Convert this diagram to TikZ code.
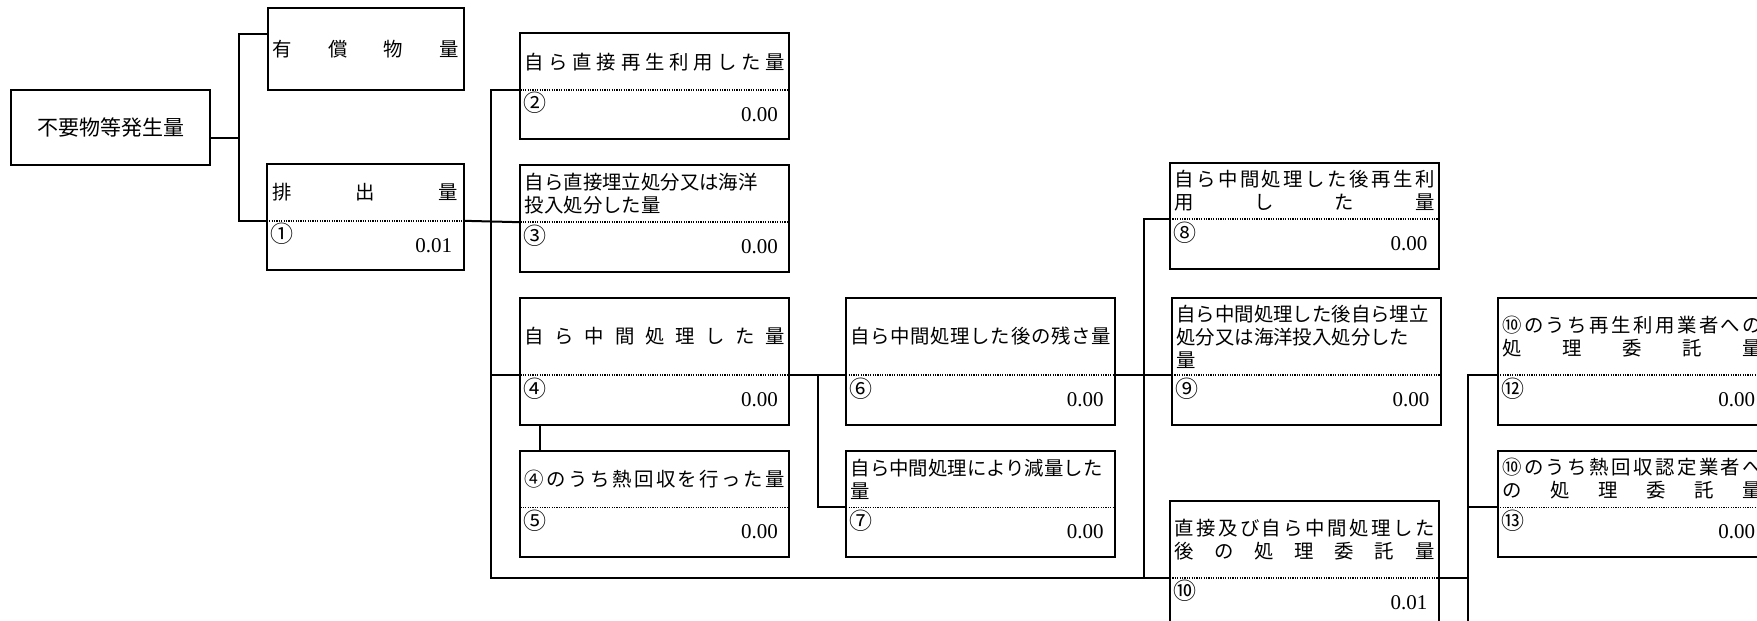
\documentclass[tikz,border=0pt]{standalone}
\usepackage{fontspec}
\setmainfont{Liberation Serif}
\newfontfamily\cjk{Noto Sans CJK JP}
\usetikzlibrary{positioning,calc}

% spread the characters of one line over the whole text width
\makeatletter
\def\dist#1{\noindent\hbox to\hsize{\dist@first#1\@nil}}
\def\dist@first#1{\ifx#1\@nil\else#1\expandafter\dist@rest\fi}
\def\dist@rest#1{\ifx#1\@nil\else\hfill#1\expandafter\dist@rest\fi}
\makeatother

\begin{document}
\begin{tikzpicture}[
  x=0.5pt, y=-0.5pt,
  frame/.style={draw, line width=1pt},
  head/.style={
    minimum width=134pt,
    minimum height=#1,
    text width=130pt,
    inner xsep=2pt,
    inner ysep=0pt,
    anchor=north west,
    align=left,
    font=\cjk\fontsize{9.7}{11.5}\selectfont,
  },
  head/.default=28pt,
  side/.style={
    head=#1,
    minimum width=98pt,
    text width=93pt,
    inner xsep=2.5pt,
  },
  side/.default=28pt,
  foot/.style={
    minimum width=134pt,
    minimum height=24.25pt,
    text width=123pt,
    inner xsep=5.5pt,
    inner ysep=0pt,
    align=right,
    font=\fontsize{10.5}{12}\selectfont,
  },
  num/.style={
    inner xsep=1.5pt,
    inner ysep=1pt,
    font=\cjk\fontsize{11.5}{12}\selectfont,
  },
  link/.style={line width=1pt},
  divider/.style={line width=0.9pt, dash pattern=on 0.6pt off 0.6pt},
]
\fill[white] (0,0) rectangle (1757,621);
\useasboundingbox (0,0) rectangle (1757,621);
\clip (0,0) rectangle (1757,621);

% Nodes
\node[frame, minimum width=99.5pt, minimum height=37.5pt,
      font=\cjk\fontsize{10.5}{12}\selectfont] (gen) at (110.5,127.8) {不要物等発生量};

\node[frame, side=41.3pt] (val) at (266.7,6.7) {\dist{有償物量}};

\node[side] (emit) at (266.7,164) {\dist{排出量}};
\node[foot, minimum width=98pt, text width=87pt, below=0pt of emit] (emit-v) {0.01};
\node[num, below right=0pt of emit.south west] (emit-n) {①};

% first column
\node[head] (reuse) at (520.4,33.3) {\dist{自ら直接再生利用した量}};
\node[foot, below=0pt of reuse] (reuse-v) {0.00};
\node[num, below right=0pt of reuse.south west] (reuse-n) {②};

\node[head, below=13pt of reuse-v] (land) {自ら直接埋立処分又は海洋\\投入処分した量};
\node[foot, below=0pt of land] (land-v) {0.00};
\node[num, below right=0pt of land.south west] (land-n) {③};

\node[head=38.5pt, below=13pt of land-v] (mid) {\dist{自ら中間処理した量}};
\node[foot, below=0pt of mid] (mid-v) {0.00};
\node[num, below right=0pt of mid.south west] (mid-n) {④};

\node[head, below=13pt of mid-v] (heat) {\dist{④のうち熱回収を行った量}};
\node[foot, below=0pt of heat] (heat-v) {0.00};
\node[num, below right=0pt of heat.south west] (heat-n) {⑤};

% second column
\node[head=38.5pt, right=28.5pt of mid] (resid) {\dist{自ら中間処理した後の残さ量}};
\node[foot, below=0pt of resid] (resid-v) {0.00};
\node[num, below right=0pt of resid.south west] (resid-n) {⑥};

\node[head, below=13pt of resid-v] (reduce) {自ら中間処理により減量した\\量};
\node[foot, below=0pt of reduce] (reduce-v) {0.00};
\node[num, below right=0pt of reduce.south west] (reduce-n) {⑦};

% third column
\node[head] (midreuse) at (1170,162.5) {\dist{自ら中間処理した後再生利}\\\dist{用した量}};
\node[foot, below=0pt of midreuse] (midreuse-v) {0.00};
\node[num, below right=0pt of midreuse.south west] (midreuse-n) {⑧};

\node[head=38.5pt, right=28.5pt of resid] (midland) {自ら中間処理した後自ら埋立\\処分又は海洋投入処分した\\量};
\node[foot, below=0pt of midland] (midland-v) {0.00};
\node[num, below right=0pt of midland.south west] (midland-n) {⑨};

\node[head=38pt] (consign) at (1170,501) {\dist{直接及び自ら中間処理した}\\\dist{後の処理委託量}};
\node[foot, below=0pt of consign] (consign-v) {0.01};
\node[num, below right=0pt of consign.south west] (consign-n) {⑩};

% fourth column
\node[head=38.5pt, right=28.5pt of midland] (conreuse) {\dist{⑩のうち再生利用業者への}\\\dist{処理委託量}};
\node[foot, below=0pt of conreuse] (conreuse-v) {0.00};
\node[num, below right=0pt of conreuse.south west] (conreuse-n) {⑫};

\node[head, below=13pt of conreuse-v] (conheat) {\dist{⑩のうち熱回収認定業者へ}\\\dist{の処理委託量}};
\node[foot, below=0pt of conheat] (conheat-v) {0.00};
\node[num, below right=0pt of conheat.south west] (conheat-n) {⑬};

% Frames
\foreach \b in {emit,reuse,land,mid,heat,resid,reduce,midreuse,midland,consign,conreuse,conheat}{
  \draw[frame] (\b.north west) rectangle (\b-v.south east);
  \draw[divider] (\b.south west) -- (\b.south east);
}

% Connectors
\coordinate (fork0) at ($(gen.east)!0.5!(emit.west)$);
\coordinate[below=5.25pt of gen.east] (gen-out);
\coordinate[below=13.5pt of val.north west] (val-in);
\coordinate[left=14.7pt of reuse.south west] (trunk);
\coordinate (fork1) at ($(mid.south east)!0.5!(resid.south west)$);
\coordinate (fork2) at ($(resid.south east)!0.5!(midland.south west)$);
\coordinate (fork3) at ($(consign.south east)!0.5!(conheat.south west)$);
\coordinate (edge) at (0,640);

\draw[link] (gen-out) -- (gen-out -| fork0);
\draw[link] (val-in) -| (fork0) |- (emit.south west);
\draw[link] (emit.south east) -- (land.south west);
\draw[link] (reuse.south west) -- (trunk) |- (consign.south west);
\draw[link] (mid.south west) -- (mid.south west -| trunk);
\draw[link] ([xshift=10pt]mid-v.south west) -- ([xshift=10pt]heat.north west);
\draw[link] (mid.south east) -- (resid.south west);
\draw[link] (fork1) |- (reduce.south west);
\draw[link] (resid.south east) -- (midland.south west);
\draw[link] (midreuse.south west) -| (fork2) -- (fork2 |- consign.south west);
\draw[link] (consign.south east) -- (consign.south east -| fork3);
\draw[link] (conreuse.south west) -| (fork3 |- edge);
\draw[link] (conheat.south west) -- (conheat.south west -| fork3);

\end{tikzpicture}
\end{document}
